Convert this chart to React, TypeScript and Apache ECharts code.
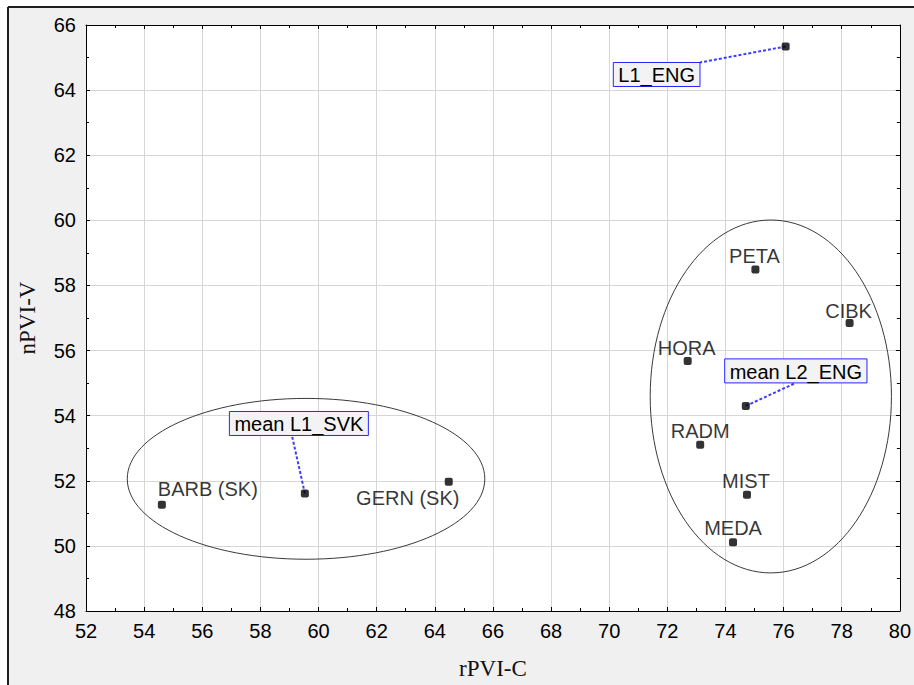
import React, { useEffect, useRef } from "react";
import * as echarts from "echarts";

// Speaker points (rPVI-C, nPVI-V)
const speakerNames = ["PETA", "CIBK", "HORA", "RADM", "MIST", "MEDA", "BARB (SK)", "GERN (SK)"];
const speakerRPVIC = [75.03, 78.27, 72.7, 73.13, 74.74, 74.26, 54.61, 64.48];
const speakerNPVIV = [58.49, 56.85, 55.68, 53.11, 51.57, 50.11, 51.26, 51.97];

// Mean / reference points with boxed labels
const meanNames = ["L1_ENG", "mean L2_ENG", "mean L1_SVK"];
const meanRPVIC = [76.07, 74.7, 59.53];
const meanNPVIV = [65.34, 54.3, 51.61];

// Group ellipses (center and radii in data units)
const ellipseCenterX = [59.57, 75.56];
const ellipseCenterY = [52.06, 54.59];
const ellipseRadiusX = [6.15, 4.15];
const ellipseRadiusY = [2.47, 5.42];

// Axis ranges
const xMin = 52;
const xMax = 80;
const yMin = 48;
const yMax = 66;

// Label placement offsets (pixels, relative to the point)
const speakerLabelOffsets: [number, number][] = [
  [-1, -13],
  [-1, -12],
  [-1, -13],
  [0, -13.5],
  [-1, -14],
  [0, -14],
  [46, -16],
  [-41, 16],
];
const meanLabelOffsets: [number, number][] = [
  [-129, 28],
  [50, -35],
  [-6, -70],
];
// where the leader line leaves the label box (fractions of the box)
const meanLineAnchor: [number, number][] = [
  [1, 0],
  [0.5, 1],
  [0.45, 1],
];

const SANS = "'Liberation Sans', Arial, sans-serif";
const SERIF = "'Liberation Serif', 'Times New Roman', serif";
const LABEL_FONT_SIZE = 20;
const BOX_PAD_X = 5;
const BOX_HEIGHT = 24;

function measure(text: string): number {
  const c = document.createElement("canvas").getContext("2d");
  if (!c) return text.length * 11;
  c.font = `${LABEL_FONT_SIZE}px ${SANS}`;
  return c.measureText(text).width;
}

export default function App() {
  const ref = useRef<HTMLDivElement>(null);

  useEffect(() => {
    document.body.style.margin = "0";
    document.body.style.overflow = "hidden";
    if (!ref.current) return;
    const chart = echarts.init(ref.current, undefined, { renderer: "svg" });
    const W = ref.current.clientWidth;
    const H = ref.current.clientHeight;

    const speakerData = speakerNames.map((n, i) => ({
      name: n,
      value: [speakerRPVIC[i], speakerNPVIV[i]],
      label: { offset: speakerLabelOffsets[i] },
    }));
    const meanData = meanNames.map((n, i) => ({
      name: n,
      value: [meanRPVIC[i], meanNPVIV[i]],
    }));
    const boxWidths = meanNames.map((n) => measure(n) + 2 * BOX_PAD_X);
    const ellipseData = ellipseCenterX.map((cx, i) => [
      cx,
      ellipseCenterY[i],
      ellipseRadiusX[i],
      ellipseRadiusY[i],
    ]);

    const tickColor = "#000";
    const baseAxis = {
      type: "value" as const,
      axisLine: { show: true, onZero: false, lineStyle: { color: "#000", width: 1 } },
      axisTick: { show: true, inside: true, length: 4, lineStyle: { color: tickColor } },
      minorTick: { show: true, splitNumber: 2, length: 3, lineStyle: { color: tickColor } },
    };

    chart.setOption({
      animation: false,
      backgroundColor: "#ffffff",
      graphic: {
        elements: [
          {
            type: "rect",
            z: -10,
            silent: true,
            shape: { x: 8, y: 7, width: W - 8, height: H - 7 },
            style: { fill: "#f0f0f0" },
          },
          {
            type: "line",
            z: -9,
            silent: true,
            shape: { x1: 8, y1: 7, x2: W, y2: 7 },
            style: { stroke: "#1e1e1e", lineWidth: 2 },
          },
          {
            type: "line",
            z: -9,
            silent: true,
            shape: { x1: 8, y1: 7, x2: 8, y2: H },
            style: { stroke: "#1e1e1e", lineWidth: 2 },
          },
        ],
      },
      grid: {
        left: 86,
        top: 25,
        right: 8,
        bottom: 69,
        show: true,
        backgroundColor: "#ffffff",
        borderWidth: 0,
      },
      xAxis: [
        {
          ...baseAxis,
          min: xMin,
          max: xMax,
          interval: 2,
          position: "bottom",
          name: "rPVI-C",
          nameLocation: "middle",
          nameGap: 46,
          nameTextStyle: { fontFamily: SERIF, fontSize: 23, color: "#111" },
          axisLabel: { fontFamily: SANS, fontSize: 20, color: "#000", margin: 10 },
          splitLine: { show: true, lineStyle: { color: "#d6d6d6", width: 1 } },
        },
        {
          ...baseAxis,
          min: xMin,
          max: xMax,
          interval: 2,
          position: "top",
          axisLabel: { show: false },
          splitLine: { show: false },
        },
      ],
      yAxis: [
        {
          ...baseAxis,
          min: yMin,
          max: yMax,
          interval: 2,
          position: "left",
          name: "nPVI-V",
          nameLocation: "middle",
          nameGap: 47,
          nameTextStyle: { fontFamily: SERIF, fontSize: 23, color: "#111" },
          axisLabel: { fontFamily: SANS, fontSize: 20, color: "#000", margin: 10 },
          splitLine: { show: true, lineStyle: { color: "#d6d6d6", width: 1 } },
        },
        {
          ...baseAxis,
          min: yMin,
          max: yMax,
          interval: 2,
          position: "right",
          axisLabel: { show: false },
          splitLine: { show: false },
        },
      ],
      series: [
        {
          type: "custom",
          name: "groups",
          xAxisIndex: 0,
          yAxisIndex: 0,
          silent: true,
          z: 1,
          data: ellipseData,
          renderItem: (params: any, api: any) => {
            const cx = api.value(0);
            const cy = api.value(1);
            const rx = api.value(2);
            const ry = api.value(3);
            const c = api.coord([cx, cy]);
            const p = api.coord([cx + rx, cy + ry]);
            return {
              type: "ellipse",
              shape: { cx: c[0], cy: c[1], rx: Math.abs(p[0] - c[0]), ry: Math.abs(c[1] - p[1]) },
              style: { fill: "none", stroke: "#3a3a3a", lineWidth: 1 },
            };
          },
        },
        {
          type: "custom",
          name: "mean labels",
          xAxisIndex: 0,
          yAxisIndex: 0,
          silent: true,
          z: 2,
          data: meanData,
          renderItem: (params: any, api: any) => {
            const i = params.dataIndex;
            const p = api.coord([api.value(0), api.value(1)]);
            const [dx, dy] = meanLabelOffsets[i];
            const cx = p[0] + dx;
            const cy = p[1] + dy;
            const w = boxWidths[i];
            const h = BOX_HEIGHT;
            const ax = cx + (meanLineAnchor[i][0] - 0.5) * w;
            const ay = cy + (meanLineAnchor[i][1] - 0.5) * h;
            return {
              type: "group",
              children: [
                {
                  type: "line",
                  shape: { x1: p[0], y1: p[1], x2: ax, y2: ay },
                  style: { stroke: "#3c3cff", lineWidth: 2, lineDash: [3, 2] },
                },
                {
                  type: "rect",
                  shape: { x: cx - w / 2, y: cy - h / 2, width: w, height: h },
                  style: { fill: "#f3f3f3", stroke: "#2626ff", lineWidth: 1 },
                },
                {
                  type: "text",
                  x: cx,
                  y: cy + 1,
                  style: {
                    text: meanNames[i],
                    fontFamily: SANS,
                    fontSize: LABEL_FONT_SIZE,
                    fill: "#000",
                    align: "center",
                    verticalAlign: "middle",
                  },
                },
              ],
            };
          },
        },
        {
          type: "scatter",
          name: "speakers",
          xAxisIndex: 0,
          yAxisIndex: 0,
          z: 3,
          symbol: "roundRect",
          symbolSize: 8,
          itemStyle: { color: "#000" },
          label: {
            show: true,
            position: "inside",
            formatter: "{b}",
            color: "#000",
            fontFamily: SANS,
            fontSize: LABEL_FONT_SIZE,
            align: "center",
            verticalAlign: "middle",
          },
          data: speakerData,
        },
        {
          type: "scatter",
          name: "means",
          xAxisIndex: 0,
          yAxisIndex: 0,
          z: 3,
          symbol: "roundRect",
          symbolSize: 8,
          itemStyle: { color: "#000" },
          data: meanData,
        },
      ],
    });

    return () => chart.dispose();
  }, []);

  return <div ref={ref} style={{ width: "100vw", height: "100vh" }} />;
}
